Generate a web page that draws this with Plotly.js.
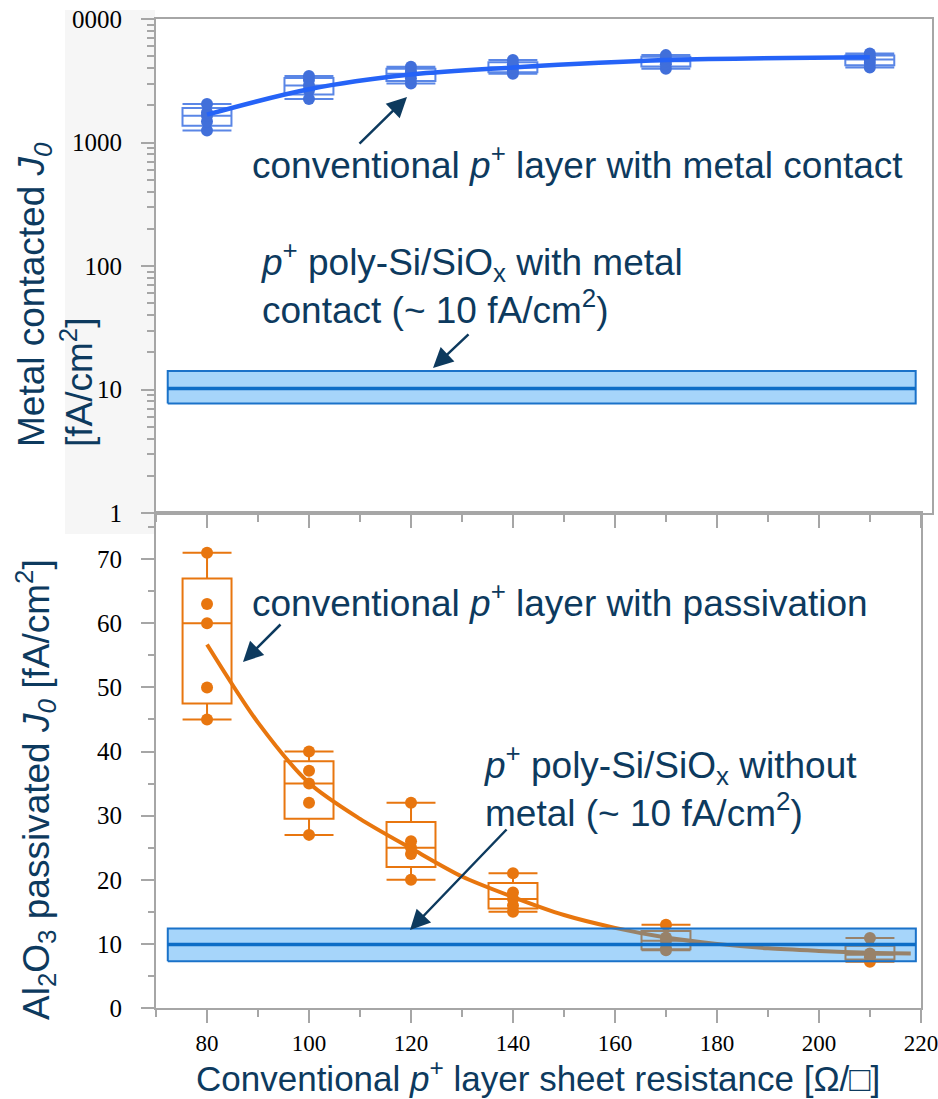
<!DOCTYPE html>
<html><head><meta charset="utf-8">
<script src="https://cdn.plot.ly/plotly-3.0.1.min.js"></script>
<style>html,body{margin:0;padding:0;background:#fff}</style>
</head><body><div id="chart" style="width:938px;height:1099px"></div>
<script>
// ---- data ----
const sheetResistance = [80, 100, 120, 140, 170, 210];
// metal-contacted J0 samples per sheet resistance [fA/cm2]
const metalJ0_80  = [1250, 1480, 1650, 1750, 2050];
const metalJ0_100 = [2250, 2650, 2900, 3200, 3450];
const metalJ0_120 = [3000, 3300, 3600, 3800, 4100];
const metalJ0_140 = [3600, 3800, 4050, 4300, 4650];
const metalJ0_170 = [3950, 4300, 4550, 4800, 5100];
const metalJ0_210 = [4050, 4400, 4700, 4900, 5250];
const metalFitX = [80, 100, 120, 140, 170, 210];
const metalFitY = [1680, 2700, 3550, 4050, 4650, 4900];
// passivated J0 samples [fA/cm2]
const passJ0_80  = [45, 50, 60, 63, 71];
const passJ0_100 = [27, 32, 35, 37, 40];
const passJ0_120 = [20, 24, 25, 26, 32];
const passJ0_140 = [15, 16, 17, 18, 21];
const passJ0_170 = [9, 9.3, 10.5, 11, 13];
const passJ0_210 = [7.2, 7.9, 8.3, 8.5, 10.9];
const passFitX = [80, 90, 100, 110, 120, 130, 140, 150, 160, 170, 180, 190, 200, 210, 218];
const passFitY = [56.7, 44.5, 35.1, 29.5, 24.9, 20.5, 17.3, 14.5, 12.5, 11.0, 10.0, 9.3, 8.9, 8.6, 8.5];
// poly-Si/SiOx reference bands [low, center, high]
const bandX = [72.3, 219];
const polyMetalBand = [7.7, 10.2, 14.1];
const polyPassBand = [7.3, 9.9, 12.4];
// tick labels
const logTickVals = [1, 10, 100, 1000, 10000];
const logTickText = ['1', '10', '100', '1000', '0000'];
const xTickVals = [80, 100, 120, 140, 160, 180, 200, 220];
const xTickText = ['80', '100', '120', '140', '160', '180', '200', '220'];

// ---- style ----
const NAVY = '#0d3a5e';
const AXC = '#a6a6a6';
const SERIF = 'Liberation Serif, Times New Roman, serif';
const SANS = 'Liberation Sans, Arial, sans-serif';
const W = 938, H = 1099;
const px = v => v / W, py = v => 1 - v / H;

const metalSets = [metalJ0_80, metalJ0_100, metalJ0_120, metalJ0_140, metalJ0_170, metalJ0_210];
const passSets = [passJ0_80, passJ0_100, passJ0_120, passJ0_140, passJ0_170, passJ0_210];

function boxTrace(sets, xa, ya, lineCol, markCol) {
  const xs = [], ys = [];
  sets.forEach((s, i) => s.forEach(v => { xs.push(sheetResistance[i]); ys.push(v); }));
  return {
    type: 'box', x: xs, y: ys, xaxis: xa, yaxis: ya,
    boxpoints: 'all', jitter: 0, pointpos: 0, width: 9.6, whiskerwidth: 1,
    quartilemethod: 'exclusive',
    line: {color: lineCol, width: 2}, fillcolor: 'rgba(0,0,0,0)',
    marker: {color: markCol, size: 12}, showlegend: false, hoverinfo: 'skip'
  };
}
function bandTraces(b, xa, ya) {
  return [
    {type: 'scatter', mode: 'lines', xaxis: xa, yaxis: ya,
     x: [bandX[0], bandX[1], bandX[1], bandX[0], bandX[0]],
     y: [b[0], b[0], b[2], b[2], b[0]],
     fill: 'toself', fillcolor: 'rgba(33,150,243,0.4)',
     line: {color: '#1a72c9', width: 2}, showlegend: false, hoverinfo: 'skip'},
    {type: 'scatter', mode: 'lines', xaxis: xa, yaxis: ya,
     x: bandX, y: [b[1], b[1]],
     line: {color: '#0d6dc6', width: 3.5}, showlegend: false, hoverinfo: 'skip'}
  ];
}

const traces = [
  boxTrace(metalSets, 'x', 'y', '#5a86e6', '#416fda'),
  {type: 'scatter', mode: 'lines', x: metalFitX, y: metalFitY, xaxis: 'x', yaxis: 'y',
   line: {color: '#2563f7', width: 4.5, shape: 'spline'}, showlegend: false, hoverinfo: 'skip'},
  ...bandTraces(polyMetalBand, 'x', 'y'),
  boxTrace(passSets, 'x2', 'y2', '#e8760f', '#e8760f'),
  {type: 'scatter', mode: 'lines', x: passFitX, y: passFitY, xaxis: 'x2', yaxis: 'y2',
   line: {color: '#e8760e', width: 4, shape: 'spline', smoothing: 0.8}, showlegend: false, hoverinfo: 'skip'},
  ...bandTraces(polyPassBand, 'x2', 'y2')
];

const tickFont = {family: SERIF, size: 25, color: '#000'};
const axBase = {
  showline: true, linecolor: AXC, linewidth: 2, mirror: true,
  showgrid: false, zeroline: false, ticks: 'outside', ticklen: 13, tickwidth: 2, tickcolor: AXC,
  tickfont: tickFont, fixedrange: true
};
const minorX = {ticks: 'outside', ticklen: 7, tickwidth: 2, tickcolor: AXC, dtick: 10, showgrid: false};

const annFont = {family: SANS, size: 37, color: NAVY};
function arrow(hx, hy, tx, ty) {
  return {xref: 'paper', yref: 'paper', x: px(hx), y: py(hy), ax: tx - hx, ay: ty - hy,
          text: '', showarrow: true, arrowhead: 2, arrowsize: 1.6, arrowwidth: 2.5, arrowcolor: NAVY,
          standoff: 0, startstandoff: 0};
}
function label(text, x, y, extra) {
  return Object.assign({xref: 'paper', yref: 'paper', x: px(x), y: py(y), text: text,
    showarrow: false, xanchor: 'left', yanchor: 'middle', align: 'left', font: annFont}, extra || {});
}

const layout = {
  width: W, height: H, margin: {l: 0, r: 0, t: 0, b: 0},
  paper_bgcolor: '#fff', plot_bgcolor: '#fff', showlegend: false,
  xaxis: Object.assign({}, axBase, {domain: [px(156), px(932)], range: [70, 222.2], anchor: 'y',
    showticklabels: false, tick0: 0, dtick: 20, minor: minorX}),
  yaxis: Object.assign({}, axBase, {domain: [py(513), py(19)], type: 'log', range: [0, 4], anchor: 'x',
    tickmode: 'array', tickvals: logTickVals, ticktext: logTickText, ticklabelstandoff: 14,
    minor: {ticks: 'outside', ticklen: 7, tickwidth: 2, tickcolor: AXC, dtick: 'D1', showgrid: false}}),
  xaxis2: Object.assign({}, axBase, {domain: [px(156), px(921)], range: [69.99, 220.01], anchor: 'y2',
    tickmode: 'array', tickvals: xTickVals, ticktext: xTickText, minor: minorX, ticklabelstandoff: 0,
    ticklabeloverflow: 'allow', tickfont: {family: SERIF, size: 23, color: '#000'}}),
  yaxis2: Object.assign({}, axBase, {domain: [py(1008), py(513)], range: [0, 77.2], anchor: 'x2',
    tick0: 0, dtick: 10, ticklabelstandoff: 14,
    minor: {ticks: 'outside', ticklen: 6, tickwidth: 2, tickcolor: AXC, dtick: 5, showgrid: false}}),
  shapes: [
    {type: 'rect', xref: 'paper', yref: 'paper', x0: px(65), x1: px(155), y0: py(534), y1: py(10),
     fillcolor: '#f6f6f6', line: {width: 0}, layer: 'below'}
  ],
  annotations: [
    label('Metal contacted <i>J</i><sub><i>0</i></sub><br>[fA/cm<sup>2</sup>]', 55, 295,
          {textangle: -90, xanchor: 'center', yanchor: 'middle', align: 'left'}),
    label('Al<sub>2</sub>O<sub>3</sub> passivated <i>J</i><sub><i>0</i></sub> [fA/cm<sup>2</sup>]', 35, 790,
          {textangle: -90, xanchor: 'center', yanchor: 'middle', align: 'center'}),
    label('Conventional <i>p</i><sup>+</sup> layer sheet resistance [Ω/□]', 538, 1076,
          {xanchor: 'center', align: 'center', font: {family: SANS, size: 35, color: NAVY}}),
    label('conventional <i>p</i><sup>+</sup> layer with metal contact', 250, 163),
    label('<i>p</i><sup>+</sup> poly-Si/SiO<sub>x</sub> with metal<br>contact (~ 10 fA/cm<sup>2</sup>)', 259, 283),
    label('conventional <i>p</i><sup>+</sup> layer with passivation', 250, 600),
    label('<i>p</i><sup>+</sup> poly-Si/SiO<sub>x</sub> without<br>metal (~ 10 fA/cm<sup>2</sup>)', 482, 786),
    arrow(407, 97, 358, 145),
    arrow(433, 368, 470, 333),
    arrow(243, 662, 282, 623),
    arrow(410, 930, 508, 828)
  ]
};

Plotly.newPlot('chart', traces, layout, {displayModeBar: false, staticPlot: true});
</script>
</body></html>
